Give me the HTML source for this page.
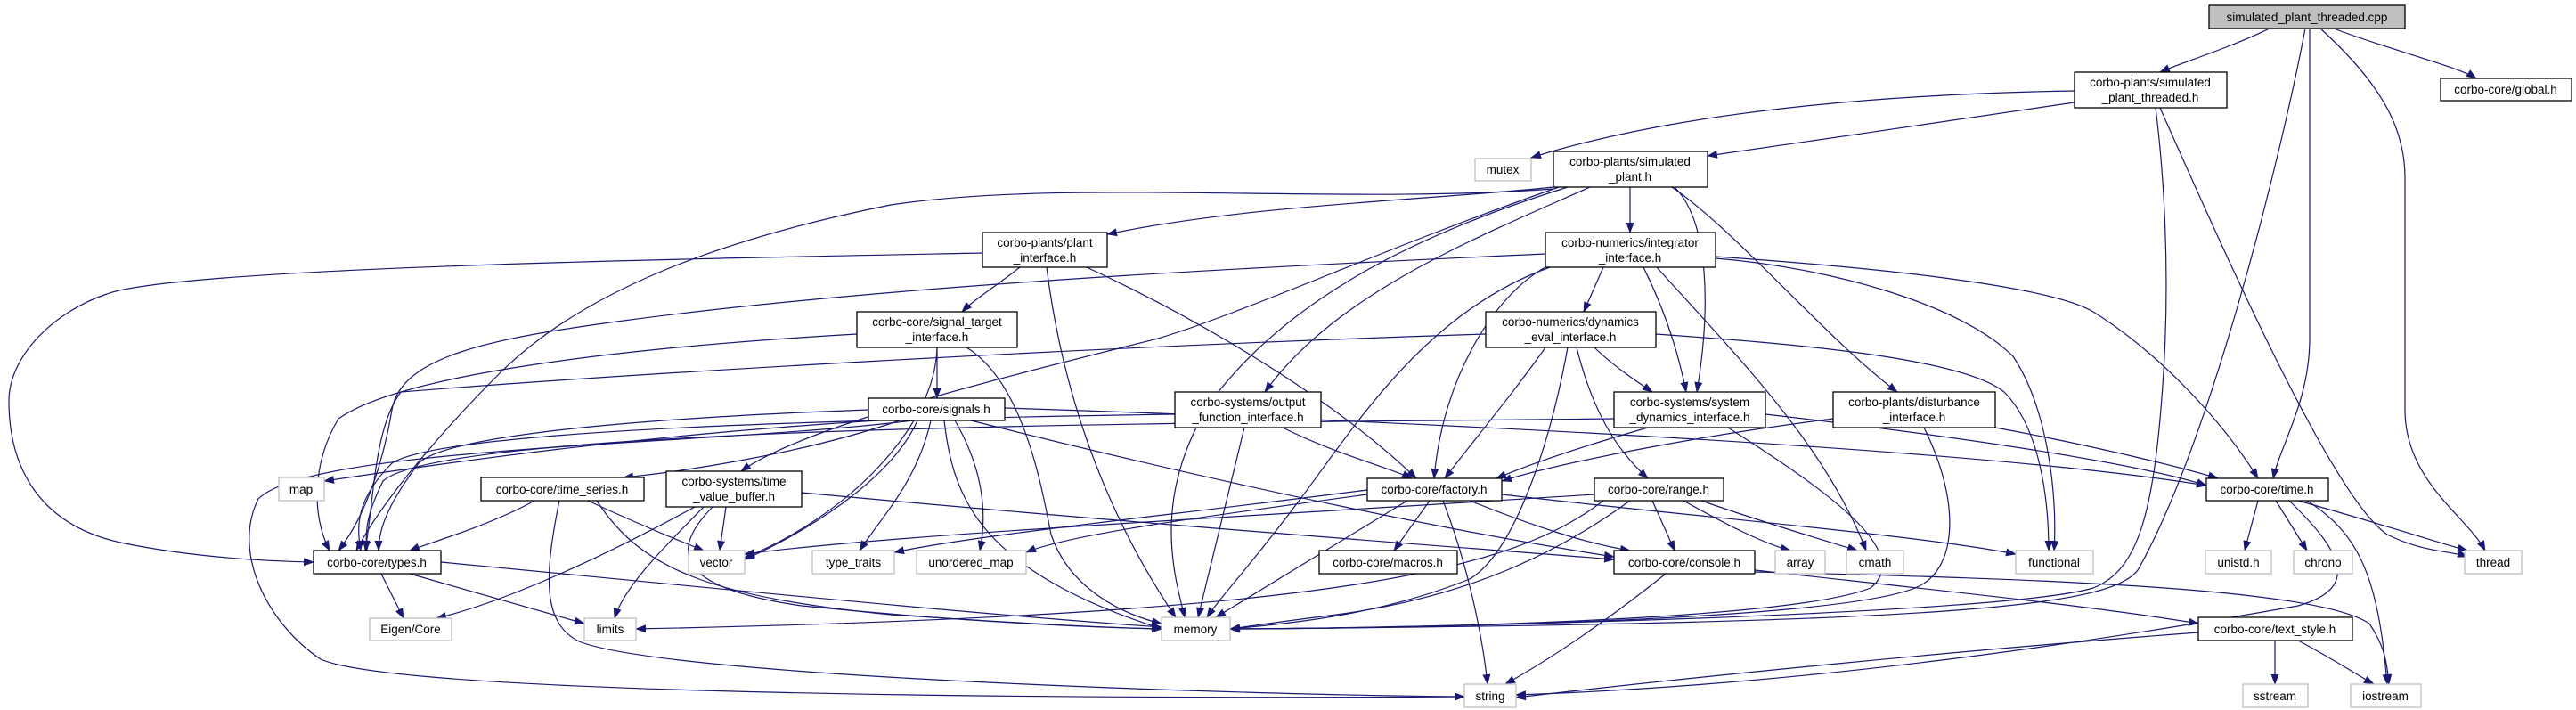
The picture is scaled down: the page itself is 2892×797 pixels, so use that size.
<!DOCTYPE html>
<html><head><meta charset="utf-8"><style>
html,body{margin:0;padding:0;background:#fff}
svg{display:block}
text{font-family:"Liberation Sans",sans-serif;font-size:13.5px;fill:#000;text-anchor:middle}
.e{fill:none;stroke:#191970;stroke-width:1.2}
.n{fill:#fff;stroke:#000;stroke-width:1.3}
.s{fill:#fff;stroke:#bfbfbf;stroke-width:1.3}
</style></head><body>
<svg width="2892" height="797" viewBox="0 0 2892 797" xmlns="http://www.w3.org/2000/svg">
<defs><marker id="a" markerWidth="12" markerHeight="9" refX="11" refY="4.5" orient="auto" markerUnits="userSpaceOnUse"><path d="M0,0 L12,4.5 L0,9 z" fill="#191970"/></marker></defs>
<g class="e" marker-end="url(#a)">
<path d="M2548,32 C2500,55 2450,70 2425,81"/>
<path d="M2620,32 C2680,55 2760,75 2780,88"/>
<path d="M2588,32 C2560,180 2480,500 2400,640 C2370,680 2200,700 1381,706"/>
<path d="M2593,32 L2593,380 C2593,450 2560,500 2552,537"/>
<path d="M2605,32 C2680,100 2700,150 2700,200 L2700,460 C2700,540 2770,580 2790,618"/>
<path d="M2329,102 C2150,105 1900,120 1719,177"/>
<path d="M2329,115 C2200,135 2050,155 1917,175"/>
<path d="M2420,121 C2430,200 2435,300 2430,400 C2420,580 2400,640 2350,660 C2250,690 1600,705 1381,706"/>
<path d="M2425,121 C2500,290 2620,560 2680,600 C2720,620 2750,618 2770,625"/>
<path d="M1744,210 C1600,225 1400,230 1243,263"/>
<path d="M1830,210 L1830,261"/>
<path d="M1785,210 C1650,270 1500,330 1420,440"/>
<path d="M1880,210 C1920,250 1920,350 1905,440"/>
<path d="M1877,210 C1950,260 2050,380 2130,440"/>
<path d="M1750,210 C1550,280 1400,350 1300,380 C1100,430 900,480 832,529"/>
<path d="M1760,210 C1600,260 1450,330 1360,450 C1290,560 1320,650 1330,693"/>
<path d="M1744,212 C1500,230 1200,200 1000,230 C800,270 650,330 560,420 C500,480 430,560 400,618"/>
<path d="M1145,300 C1120,320 1095,335 1080,350"/>
<path d="M1220,300 C1350,360 1500,450 1590,537"/>
<path d="M1175,300 C1190,420 1230,560 1320,693"/>
<path d="M1103,284 C800,290 200,300 120,330 C60,350 10,400 10,450 C10,520 40,590 140,610 C220,626 300,630 352,631"/>
<path d="M1800,300 L1778,350"/>
<path d="M1845,300 C1870,350 1885,400 1893,440"/>
<path d="M1735,300 C1680,330 1620,420 1610,537"/>
<path d="M1735,285 C1400,300 1000,320 700,360 C550,380 450,400 440,460 C430,520 410,580 380,618"/>
<path d="M1740,300 C1600,350 1520,480 1460,560 C1400,640 1370,670 1355,693"/>
<path d="M1926,290 C2050,300 2200,340 2260,400 C2300,460 2310,560 2306,618"/>
<path d="M1926,288 C2100,300 2300,320 2350,350 C2430,400 2500,480 2535,537"/>
<path d="M1860,300 C1950,400 2050,500 2095,618"/>
<path d="M1052,390 L1052,447"/>
<path d="M962,375 C700,390 450,420 380,470 C350,520 350,580 370,618"/>
<path d="M1085,390 C1150,430 1170,550 1180,600 C1200,660 1260,690 1304,700"/>
<path d="M1052,390 C1050,480 950,580 836,626"/>
<path d="M1790,390 C1810,410 1840,430 1855,440"/>
<path d="M1735,390 C1700,440 1650,500 1622,537"/>
<path d="M1770,390 C1790,470 1820,510 1850,537"/>
<path d="M1760,390 C1740,500 1700,620 1650,650 C1550,690 1450,700 1381,706"/>
<path d="M1668,375 C1200,390 700,420 450,440 C420,480 420,560 410,618"/>
<path d="M1859,375 C2000,385 2200,400 2250,440 C2290,480 2300,560 2300,618"/>
<path d="M1010,472 C900,510 760,530 700,536"/>
<path d="M975,460 C700,470 500,490 470,520 C440,560 425,590 425,618"/>
<path d="M1128,458 C1500,470 2200,500 2477,545"/>
<path d="M1090,472 C1400,550 1650,600 1812,625"/>
<path d="M1030,472 C1000,540 900,600 836,628"/>
<path d="M1060,472 C1070,560 1100,640 1304,706"/>
<path d="M1045,472 C1030,540 990,580 965,618"/>
<path d="M1072,472 C1100,520 1110,570 1100,618"/>
<path d="M985,472 C700,490 500,520 364,540"/>
<path d="M1025,472 C800,500 350,500 290,560 C260,620 300,700 360,740 C450,780 1200,785 1644,782"/>
<path d="M1440,480 C1500,510 1560,525 1585,537"/>
<path d="M1397,480 L1345,693"/>
<path d="M1319,465 C1000,470 500,480 440,520 C400,560 400,590 405,618"/>
<path d="M1850,480 C1780,500 1720,520 1680,537"/>
<path d="M1982,465 C2200,490 2400,520 2477,545"/>
<path d="M1940,480 C2050,550 2150,620 2100,660 C2000,700 1500,706 1381,706"/>
<path d="M1812,470 C1400,475 500,475 430,540 C410,580 410,600 412,618"/>
<path d="M2058,470 C1900,490 1750,520 1686,540"/>
<path d="M2240,480 C2350,500 2450,525 2490,537"/>
<path d="M2160,480 C2200,560 2200,640 2150,660 C2050,700 1500,706 1381,706"/>
<path d="M600,562 C550,590 480,610 460,618"/>
<path d="M660,562 C720,590 770,610 790,618"/>
<path d="M670,562 C720,640 800,670 1000,690 C1150,700 1250,705 1304,706"/>
<path d="M628,562 C610,650 610,700 650,720 C750,760 1400,780 1644,782"/>
<path d="M815,569 L808,618"/>
<path d="M780,569 C650,640 550,680 490,694"/>
<path d="M790,569 C740,620 700,660 690,694"/>
<path d="M800,569 C750,620 760,660 900,680 C1100,700 1250,705 1304,706"/>
<path d="M900,553 C1300,590 1650,615 1812,628"/>
<path d="M1650,562 C1720,590 1780,610 1830,618"/>
<path d="M1605,562 L1565,618"/>
<path d="M1580,562 C1500,610 1420,660 1365,693"/>
<path d="M1620,562 C1650,640 1665,720 1670,768"/>
<path d="M1535,555 C1350,580 1200,600 1152,620"/>
<path d="M1535,550 C1300,580 1100,600 1004,620"/>
<path d="M1686,555 C1900,580 2150,600 2263,622"/>
<path d="M1855,562 L1880,618"/>
<path d="M1890,562 C1940,590 1980,610 2010,618"/>
<path d="M1910,562 C1990,590 2060,610 2085,618"/>
<path d="M1790,555 C1400,580 1000,600 836,622"/>
<path d="M1830,562 C1750,620 1650,670 1500,690 C1420,700 1390,705 1381,706"/>
<path d="M1800,562 C1700,640 1500,690 714,706"/>
<path d="M2535,562 L2520,618"/>
<path d="M2555,562 L2590,618"/>
<path d="M2580,562 C2680,590 2740,610 2770,618"/>
<path d="M2590,562 C2650,600 2670,650 2680,768"/>
<path d="M2570,562 C2630,620 2650,660 2580,680 C2300,730 2000,770 1702,780"/>
<path d="M428,644 L453,694"/>
<path d="M460,644 C550,670 620,690 656,700"/>
<path d="M495,631 C800,660 1100,690 1304,704"/>
<path d="M1870,644 C1800,700 1740,740 1690,768"/>
<path d="M1970,640 C2150,660 2350,680 2468,700"/>
<path d="M1970,642 C2300,650 2600,660 2660,700 C2680,730 2680,750 2682,768"/>
<path d="M2554,719 L2554,768"/>
<path d="M2580,719 C2620,740 2650,760 2665,768"/>
<path d="M2468,710 C2200,730 1900,760 1702,783"/>
</g>
<g>
<rect x="2480" y="6" width="220" height="26" fill="#bfbfbf" stroke="#000" stroke-width="1.3"/><text x="2590" y="24">simulated_plant_threaded.cpp</text>
<rect class="n" x="2329" y="81" width="171" height="40"/><text x="2414" y="97">corbo-plants/simulated</text><text x="2414" y="114">_plant_threaded.h</text>
<rect class="n" x="2740" y="88" width="147" height="25"/><text x="2813" y="105">corbo-core/global.h</text>
<rect class="s" x="1656" y="178" width="63" height="25"/><text x="1687" y="195">mutex</text>
<rect class="n" x="1744" y="170" width="173" height="40"/><text x="1830" y="186">corbo-plants/simulated</text><text x="1830" y="203">_plant.h</text>
<rect class="n" x="1103" y="261" width="140" height="39"/><text x="1173" y="277">corbo-plants/plant</text><text x="1173" y="294">_interface.h</text>
<rect class="n" x="1735" y="261" width="191" height="39"/><text x="1830" y="277">corbo-numerics/integrator</text><text x="1830" y="294">_interface.h</text>
<rect class="n" x="962" y="350" width="180" height="40"/><text x="1052" y="366">corbo-core/signal_target</text><text x="1052" y="383">_interface.h</text>
<rect class="n" x="1668" y="350" width="191" height="40"/><text x="1763" y="366">corbo-numerics/dynamics</text><text x="1763" y="383">_eval_interface.h</text>
<rect class="n" x="975" y="447" width="153" height="25"/><text x="1051" y="464">corbo-core/signals.h</text>
<rect class="n" x="1319" y="440" width="164" height="40"/><text x="1401" y="456">corbo-systems/output</text><text x="1401" y="473">_function_interface.h</text>
<rect class="n" x="1812" y="440" width="170" height="40"/><text x="1897" y="456">corbo-systems/system</text><text x="1897" y="473">_dynamics_interface.h</text>
<rect class="n" x="2058" y="440" width="182" height="40"/><text x="2149" y="456">corbo-plants/disturbance</text><text x="2149" y="473">_interface.h</text>
<rect class="s" x="313" y="536" width="51" height="26"/><text x="338" y="554">map</text>
<rect class="n" x="540" y="536" width="183" height="26"/><text x="631" y="554">corbo-core/time_series.h</text>
<rect class="n" x="748" y="529" width="152" height="40"/><text x="824" y="545">corbo-systems/time</text><text x="824" y="562">_value_buffer.h</text>
<rect class="n" x="1535" y="537" width="151" height="25"/><text x="1610" y="554">corbo-core/factory.h</text>
<rect class="n" x="1790" y="537" width="145" height="25"/><text x="1862" y="554">corbo-core/range.h</text>
<rect class="n" x="2477" y="537" width="137" height="25"/><text x="2545" y="554">corbo-core/time.h</text>
<rect class="n" x="352" y="618" width="143" height="26"/><text x="423" y="636">corbo-core/types.h</text>
<rect class="s" x="773" y="618" width="63" height="26"/><text x="804" y="636">vector</text>
<rect class="s" x="912" y="618" width="92" height="26"/><text x="958" y="636">type_traits</text>
<rect class="s" x="1029" y="618" width="123" height="26"/><text x="1090" y="636">unordered_map</text>
<rect class="n" x="1481" y="618" width="155" height="26"/><text x="1558" y="636">corbo-core/macros.h</text>
<rect class="n" x="1812" y="618" width="158" height="26"/><text x="1891" y="636">corbo-core/console.h</text>
<rect class="s" x="1993" y="618" width="56" height="26"/><text x="2021" y="636">array</text>
<rect class="s" x="2073" y="618" width="64" height="26"/><text x="2105" y="636">cmath</text>
<rect class="s" x="2263" y="618" width="87" height="26"/><text x="2306" y="636">functional</text>
<rect class="s" x="2476" y="618" width="74" height="26"/><text x="2513" y="636">unistd.h</text>
<rect class="s" x="2575" y="618" width="66" height="26"/><text x="2608" y="636">chrono</text>
<rect class="s" x="2767" y="618" width="64" height="26"/><text x="2799" y="636">thread</text>
<rect class="s" x="415" y="694" width="92" height="25"/><text x="461" y="711">Eigen/Core</text>
<rect class="s" x="656" y="694" width="58" height="25"/><text x="685" y="711">limits</text>
<rect class="s" x="1304" y="693" width="77" height="26"/><text x="1342" y="711">memory</text>
<rect class="n" x="2468" y="693" width="173" height="26"/><text x="2554" y="711">corbo-core/text_style.h</text>
<rect class="s" x="1644" y="768" width="58" height="26"/><text x="1673" y="786">string</text>
<rect class="s" x="2518" y="768" width="73" height="26"/><text x="2554" y="786">sstream</text>
<rect class="s" x="2639" y="768" width="79" height="26"/><text x="2678" y="786">iostream</text>
</g>
</svg>
</body></html>
